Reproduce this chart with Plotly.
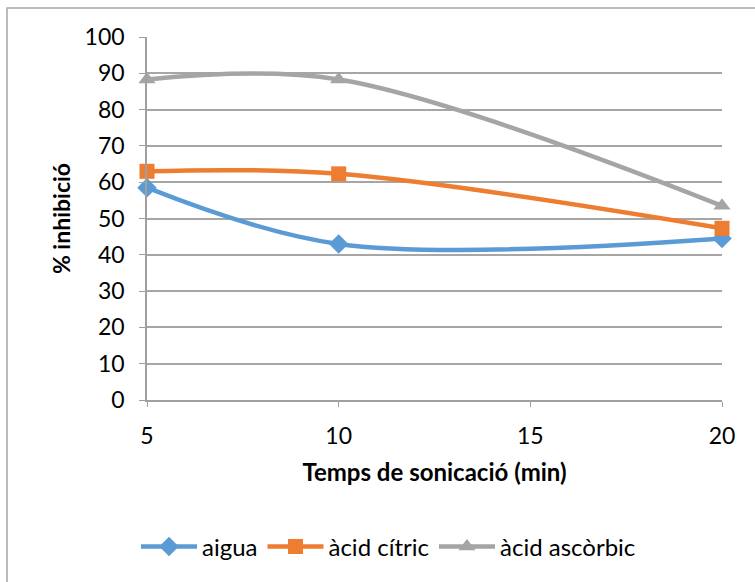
import plotly.graph_objects as go

temps = [5, 10, 20]
aigua = [58.5, 43.0, 44.5]
acid_citric = [63.0, 62.3, 47.3]
acid_ascorbic = [88.3, 88.3, 53.5]

series = [
    ("aigua", aigua, "#5B9BD5", "diamond", 15),
    ("àcid cítric", acid_citric, "#ED7D31", "square", 15),
    ("àcid ascòrbic", acid_ascorbic, "#A5A5A5", "triangle-up", 15),
]

FONT = "Lato"
fig = go.Figure()
for name, vals, col, sym, sz in series:
    fig.add_trace(go.Scatter(
        x=temps, y=vals, name=name, mode="lines+markers",
        line=dict(color=col, width=4.5, shape="spline", smoothing=1),
        marker=dict(symbol=sym, size=sz, color=col),
        cliponaxis=False,
    ))

fig.update_layout(
    width=755, height=582,
    margin=dict(l=147, r=33, t=37, b=182),
    paper_bgcolor="white", plot_bgcolor="white",
    font=dict(family=FONT, color="#000000", size=22),
    showlegend=True,
    legend=dict(orientation="h", x=0.42, xanchor="center", y=-0.405, yanchor="middle",
                font=dict(size=24, family=FONT), itemwidth=56, traceorder="normal"),
    xaxis=dict(
        range=[5, 20], tickvals=[5, 10, 15, 20], showgrid=False,
        showline=True, linecolor="#A0A0A0", linewidth=1.5,
        ticks="outside", ticklen=5, tickcolor="#A0A0A0", ticklabelstandoff=10,
        tickfont=dict(size=23, family=FONT), zeroline=False,
        title=dict(text="<b>Temps de sonicació (min)</b>", font=dict(size=24, family=FONT), standoff=16),
    ),
    yaxis=dict(
        range=[0, 100], dtick=10, showgrid=True, gridcolor="#A6A6A6", gridwidth=1.5,
        showline=True, linecolor="#A0A0A0", linewidth=1.5,
        ticks="outside", ticklen=6, tickcolor="#A0A0A0", ticklabelstandoff=10,
        tickfont=dict(size=23, family=FONT), zeroline=False,
        title=dict(text="<b>% inhibició</b>", font=dict(size=23, family=FONT), standoff=8),
    ),
    shapes=[dict(type="rect", xref="paper", yref="paper",
                 x0=-140/575, x1=1.2, y0=-1.0, y1=1 + 29/363,
                 line=dict(color="#A6A6A6", width=1.5), fillcolor="rgba(0,0,0,0)", layer="below")],
)

fig.write_html("out.html")
